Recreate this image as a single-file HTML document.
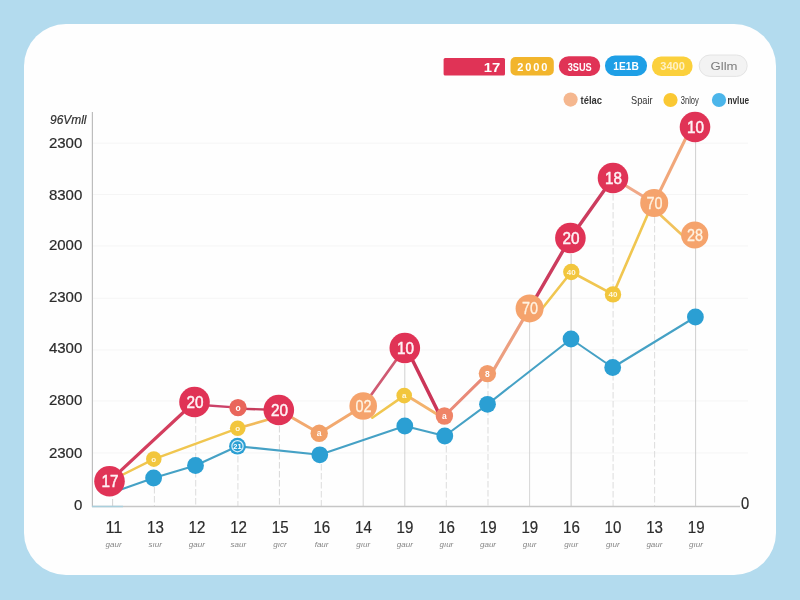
<!DOCTYPE html>
<html lang="en">
<head>
<meta charset="utf-8">
<title>Line chart</title>
<style>
html,body{margin:0;padding:0;}
body{width:800px;height:600px;overflow:hidden;background:#b3dbee;font-family:"Liberation Sans",sans-serif;}
.card{position:absolute;left:24px;top:24px;width:752px;height:551px;background:#fefefe;border-radius:42px;}
svg{position:absolute;left:0;top:0;width:800px;height:600px;font-family:"Liberation Sans",sans-serif;}
</style>
</head>
<body>
<div class="card"></div>
<svg width="800" height="600" viewBox="0 0 800 600">
<g stroke="#f5f5f5" stroke-width="1">
<line x1="93" y1="143.2" x2="748" y2="143.2"/>
<line x1="93" y1="194.5" x2="748" y2="194.5"/>
<line x1="93" y1="246" x2="748" y2="246"/>
<line x1="93" y1="298.3" x2="748" y2="298.3"/>
<line x1="93" y1="350" x2="748" y2="350"/>
<line x1="93" y1="401" x2="748" y2="401"/>
<line x1="93" y1="453" x2="748" y2="453"/>
</g>
<line x1="112.6" y1="499" x2="112.6" y2="506" stroke="#c9c9c9" stroke-width="0.85" />
<line x1="154.4" y1="487" x2="154.4" y2="506" stroke="#d6d6d6" stroke-width="0.85" stroke-dasharray="6.5 2.5"/>
<line x1="195.7" y1="417" x2="195.7" y2="506" stroke="#d6d6d6" stroke-width="0.85" stroke-dasharray="6.5 2.5"/>
<line x1="237.9" y1="456" x2="237.9" y2="506" stroke="#d6d6d6" stroke-width="0.85" stroke-dasharray="6.5 2.5"/>
<line x1="279.4" y1="426" x2="279.4" y2="506" stroke="#d0d0d0" stroke-width="0.85" stroke-dasharray="6.5 2.5"/>
<line x1="321.3" y1="464" x2="321.3" y2="506" stroke="#d6d6d6" stroke-width="0.85" stroke-dasharray="6.5 2.5"/>
<line x1="363.2" y1="420" x2="363.2" y2="506" stroke="#cfcfcf" stroke-width="0.85" />
<line x1="404.8" y1="364" x2="404.8" y2="506" stroke="#c6c6c6" stroke-width="0.85" />
<line x1="446.3" y1="446" x2="446.3" y2="506" stroke="#d6d6d6" stroke-width="0.85" stroke-dasharray="6.5 2.5"/>
<line x1="488.0" y1="382" x2="488.0" y2="506" stroke="#d6d6d6" stroke-width="0.85" stroke-dasharray="6.5 2.5"/>
<line x1="529.6" y1="322" x2="529.6" y2="506" stroke="#cfcfcf" stroke-width="0.85" />
<line x1="571.1" y1="254" x2="571.1" y2="506" stroke="#bdbdbd" stroke-width="0.85" />
<line x1="613.1" y1="194" x2="613.1" y2="506" stroke="#d6d6d6" stroke-width="0.85" stroke-dasharray="6.5 2.5"/>
<line x1="654.6" y1="217" x2="654.6" y2="506" stroke="#d6d6d6" stroke-width="0.85" stroke-dasharray="6.5 2.5"/>
<line x1="695.6" y1="142" x2="695.6" y2="506" stroke="#c6c6c6" stroke-width="0.85" />
<line x1="92.4" y1="112" x2="92.4" y2="507" stroke="#bdbdbd" stroke-width="1.2"/>
<line x1="92" y1="506.5" x2="740" y2="506.5" stroke="#c6c6c6" stroke-width="1.3"/>
<line x1="92" y1="506.5" x2="123" y2="506.5" stroke="#a9cfdc" stroke-width="1.5"/>
<text x="50.0" y="123.6" font-size="13.5" fill="#2f2f2f" text-anchor="start" font-style="italic" stroke="#2f2f2f" stroke-width="0.2" textLength="36.5" lengthAdjust="spacingAndGlyphs">96Vmll</text>
<text x="82.3" y="148.4" font-size="15" fill="#2b2b2b" text-anchor="end" stroke="#2b2b2b" stroke-width="0.2">2300</text>
<text x="82.3" y="199.9" font-size="15" fill="#2b2b2b" text-anchor="end" stroke="#2b2b2b" stroke-width="0.2">8300</text>
<text x="82.3" y="250.4" font-size="15" fill="#2b2b2b" text-anchor="end" stroke="#2b2b2b" stroke-width="0.2">2000</text>
<text x="82.3" y="302.4" font-size="15" fill="#2b2b2b" text-anchor="end" stroke="#2b2b2b" stroke-width="0.2">2300</text>
<text x="82.3" y="353.4" font-size="15" fill="#2b2b2b" text-anchor="end" stroke="#2b2b2b" stroke-width="0.2">4300</text>
<text x="82.3" y="405.4" font-size="15" fill="#2b2b2b" text-anchor="end" stroke="#2b2b2b" stroke-width="0.2">2800</text>
<text x="82.3" y="458.4" font-size="15" fill="#2b2b2b" text-anchor="end" stroke="#2b2b2b" stroke-width="0.2">2300</text>
<text x="82.3" y="509.9" font-size="15" fill="#2b2b2b" text-anchor="end" stroke="#2b2b2b" stroke-width="0.2">0</text>
<text x="745.0" y="508.6" font-size="16" fill="#2b2b2b" text-anchor="middle" stroke="#2b2b2b" stroke-width="0.2" textLength="8.2" lengthAdjust="spacingAndGlyphs">0</text>
<text x="113.8" y="532.6" font-size="16.5" fill="#2b2b2b" text-anchor="middle" stroke="#2b2b2b" stroke-width="0.2" textLength="16.8" lengthAdjust="spacingAndGlyphs">11</text>
<text x="113.6" y="547.4" font-size="8" fill="#858585" text-anchor="middle" font-style="italic">gaur</text>
<text x="155.4" y="532.6" font-size="16.5" fill="#2b2b2b" text-anchor="middle" stroke="#2b2b2b" stroke-width="0.2" textLength="16.8" lengthAdjust="spacingAndGlyphs">13</text>
<text x="155.2" y="547.4" font-size="8" fill="#858585" text-anchor="middle" font-style="italic">sıur</text>
<text x="197.0" y="532.6" font-size="16.5" fill="#2b2b2b" text-anchor="middle" stroke="#2b2b2b" stroke-width="0.2" textLength="16.8" lengthAdjust="spacingAndGlyphs">12</text>
<text x="196.8" y="547.4" font-size="8" fill="#858585" text-anchor="middle" font-style="italic">gaur</text>
<text x="238.6" y="532.6" font-size="16.5" fill="#2b2b2b" text-anchor="middle" stroke="#2b2b2b" stroke-width="0.2" textLength="16.8" lengthAdjust="spacingAndGlyphs">12</text>
<text x="238.4" y="547.4" font-size="8" fill="#858585" text-anchor="middle" font-style="italic">saur</text>
<text x="280.2" y="532.6" font-size="16.5" fill="#2b2b2b" text-anchor="middle" stroke="#2b2b2b" stroke-width="0.2" textLength="16.8" lengthAdjust="spacingAndGlyphs">15</text>
<text x="280.0" y="547.4" font-size="8" fill="#858585" text-anchor="middle" font-style="italic">gıcr</text>
<text x="321.8" y="532.6" font-size="16.5" fill="#2b2b2b" text-anchor="middle" stroke="#2b2b2b" stroke-width="0.2" textLength="16.8" lengthAdjust="spacingAndGlyphs">16</text>
<text x="321.6" y="547.4" font-size="8" fill="#858585" text-anchor="middle" font-style="italic">faur</text>
<text x="363.4" y="532.6" font-size="16.5" fill="#2b2b2b" text-anchor="middle" stroke="#2b2b2b" stroke-width="0.2" textLength="16.8" lengthAdjust="spacingAndGlyphs">14</text>
<text x="363.2" y="547.4" font-size="8" fill="#858585" text-anchor="middle" font-style="italic">gıur</text>
<text x="405.0" y="532.6" font-size="16.5" fill="#2b2b2b" text-anchor="middle" stroke="#2b2b2b" stroke-width="0.2" textLength="16.8" lengthAdjust="spacingAndGlyphs">19</text>
<text x="404.8" y="547.4" font-size="8" fill="#858585" text-anchor="middle" font-style="italic">gaur</text>
<text x="446.6" y="532.6" font-size="16.5" fill="#2b2b2b" text-anchor="middle" stroke="#2b2b2b" stroke-width="0.2" textLength="16.8" lengthAdjust="spacingAndGlyphs">16</text>
<text x="446.4" y="547.4" font-size="8" fill="#858585" text-anchor="middle" font-style="italic">gıur</text>
<text x="488.2" y="532.6" font-size="16.5" fill="#2b2b2b" text-anchor="middle" stroke="#2b2b2b" stroke-width="0.2" textLength="16.8" lengthAdjust="spacingAndGlyphs">19</text>
<text x="488.0" y="547.4" font-size="8" fill="#858585" text-anchor="middle" font-style="italic">gaur</text>
<text x="529.8" y="532.6" font-size="16.5" fill="#2b2b2b" text-anchor="middle" stroke="#2b2b2b" stroke-width="0.2" textLength="16.8" lengthAdjust="spacingAndGlyphs">19</text>
<text x="529.6" y="547.4" font-size="8" fill="#858585" text-anchor="middle" font-style="italic">gıur</text>
<text x="571.4" y="532.6" font-size="16.5" fill="#2b2b2b" text-anchor="middle" stroke="#2b2b2b" stroke-width="0.2" textLength="16.8" lengthAdjust="spacingAndGlyphs">16</text>
<text x="571.2" y="547.4" font-size="8" fill="#858585" text-anchor="middle" font-style="italic">gıur</text>
<text x="613.0" y="532.6" font-size="16.5" fill="#2b2b2b" text-anchor="middle" stroke="#2b2b2b" stroke-width="0.2" textLength="16.8" lengthAdjust="spacingAndGlyphs">10</text>
<text x="612.8" y="547.4" font-size="8" fill="#858585" text-anchor="middle" font-style="italic">gıur</text>
<text x="654.6" y="532.6" font-size="16.5" fill="#2b2b2b" text-anchor="middle" stroke="#2b2b2b" stroke-width="0.2" textLength="16.8" lengthAdjust="spacingAndGlyphs">13</text>
<text x="654.4" y="547.4" font-size="8" fill="#858585" text-anchor="middle" font-style="italic">gaur</text>
<text x="696.2" y="532.6" font-size="16.5" fill="#2b2b2b" text-anchor="middle" stroke="#2b2b2b" stroke-width="0.2" textLength="16.8" lengthAdjust="spacingAndGlyphs">19</text>
<text x="696.0" y="547.4" font-size="8" fill="#858585" text-anchor="middle" font-style="italic">gıur</text>
<line x1="121.0" y1="489.5" x2="153.6" y2="478.0" stroke="#45a1c5" stroke-width="2.1" stroke-linecap="round" />
<line x1="153.6" y1="478.0" x2="195.5" y2="465.5" stroke="#45a1c5" stroke-width="2.1" stroke-linecap="round" />
<line x1="195.5" y1="465.5" x2="237.5" y2="446.2" stroke="#45a1c5" stroke-width="2.1" stroke-linecap="round" />
<line x1="237.5" y1="446.2" x2="319.8" y2="454.8" stroke="#45a1c5" stroke-width="2.1" stroke-linecap="round" />
<line x1="319.8" y1="454.8" x2="404.8" y2="426.0" stroke="#45a1c5" stroke-width="2.1" stroke-linecap="round" />
<line x1="404.8" y1="426.0" x2="444.8" y2="436.0" stroke="#45a1c5" stroke-width="2.1" stroke-linecap="round" />
<line x1="444.8" y1="436.0" x2="487.5" y2="404.3" stroke="#45a1c5" stroke-width="2.1" stroke-linecap="round" />
<line x1="487.5" y1="404.3" x2="571.0" y2="339.0" stroke="#45a1c5" stroke-width="2.1" stroke-linecap="round" />
<line x1="571.0" y1="339.0" x2="612.7" y2="367.5" stroke="#45a1c5" stroke-width="2.1" stroke-linecap="round" />
<line x1="612.7" y1="367.5" x2="695.4" y2="317.0" stroke="#45a1c5" stroke-width="2.1" stroke-linecap="round" />
<line x1="109.5" y1="481.2" x2="153.8" y2="459.1" stroke="#f0c650" stroke-width="2.4" stroke-linecap="round" />
<line x1="153.8" y1="459.1" x2="237.7" y2="428.3" stroke="#f0c650" stroke-width="2.4" stroke-linecap="round" />
<line x1="237.7" y1="428.3" x2="278.8" y2="416.5" stroke="#f1ba5c" stroke-width="2.6" stroke-linecap="round" />
<line x1="372.3" y1="417.7" x2="404.2" y2="395.6" stroke="#f0c650" stroke-width="2.5" stroke-linecap="round" stroke-linecap="butt"/>
<line x1="404.2" y1="394.0" x2="444.0" y2="418.5" stroke="#f3b26c" stroke-width="2.8" stroke-linecap="round" />
<line x1="541.0" y1="310.0" x2="571.3" y2="272.0" stroke="#f0c650" stroke-width="2.6" stroke-linecap="round" />
<line x1="571.3" y1="272.0" x2="613.0" y2="294.4" stroke="#f0c650" stroke-width="2.6" stroke-linecap="round" />
<line x1="613.0" y1="294.4" x2="654.2" y2="199.5" stroke="#f0c650" stroke-width="2.6" stroke-linecap="round" />
<line x1="655.0" y1="210.0" x2="688.0" y2="240.5" stroke="#f1c25c" stroke-width="2.6" stroke-linecap="round" />
<line x1="278.8" y1="410.0" x2="319.2" y2="433.3" stroke="#f2a96f" stroke-width="3" stroke-linecap="round" />
<line x1="319.2" y1="433.3" x2="363.2" y2="406.0" stroke="#f2a96f" stroke-width="3" stroke-linecap="round" />
<line x1="444.4" y1="416.0" x2="487.4" y2="373.6" stroke="#e98a78" stroke-width="3" stroke-linecap="round" />
<line x1="491.5" y1="373.6" x2="529.6" y2="308.4" stroke="#ec9f80" stroke-width="3.1" stroke-linecap="round" />
<line x1="613.0" y1="178.0" x2="654.2" y2="203.0" stroke="#f0a888" stroke-width="3" stroke-linecap="round" />
<line x1="654.2" y1="203.0" x2="691.2" y2="127.0" stroke="#f1a77a" stroke-width="3" stroke-linecap="round" />
<line x1="109.5" y1="481.2" x2="194.5" y2="402.0" stroke="#d33e5e" stroke-width="3.2" stroke-linecap="round" />
<line x1="194.5" y1="404.5" x2="238.0" y2="407.6" stroke="#cb4168" stroke-width="2.4" stroke-linecap="round" />
<line x1="238.0" y1="408.6" x2="278.8" y2="410.0" stroke="#c63c5c" stroke-width="2.4" stroke-linecap="round" />
<line x1="363.2" y1="406.0" x2="404.8" y2="348.0" stroke="#cf5a72" stroke-width="2.7" stroke-linecap="round" />
<line x1="406.5" y1="348.0" x2="440.2" y2="416.0" stroke="#cb3558" stroke-width="3.5" stroke-linecap="round" />
<line x1="529.6" y1="308.4" x2="570.4" y2="238.0" stroke="#cc3c5e" stroke-width="3.4" stroke-linecap="round" />
<line x1="570.4" y1="238.0" x2="613.0" y2="178.0" stroke="#cc3c5e" stroke-width="3.4" stroke-linecap="round" />
<circle cx="153.6" cy="478.0" r="8.4" fill="#2b9fd3" />
<circle cx="195.5" cy="465.5" r="8.4" fill="#2b9fd3" />
<circle cx="237.5" cy="446.2" r="8.4" fill="#2b9fd3" />
<circle cx="319.8" cy="454.8" r="8.4" fill="#2b9fd3" />
<circle cx="404.8" cy="426.0" r="8.4" fill="#2b9fd3" />
<circle cx="444.8" cy="436.0" r="8.4" fill="#2b9fd3" />
<circle cx="487.5" cy="404.3" r="8.4" fill="#2b9fd3" />
<circle cx="571.0" cy="339.0" r="8.4" fill="#2b9fd3" />
<circle cx="612.7" cy="367.5" r="8.4" fill="#2b9fd3" />
<circle cx="695.4" cy="317.0" r="8.4" fill="#2b9fd3" />
<circle cx="237.5" cy="446.2" r="5.6" fill="none" stroke="#d9f0fa" stroke-width="1.2"/>
<text x="237.5" y="449.0" font-size="7.5" fill="#fff" text-anchor="middle" font-weight="bold">21</text>
<circle cx="153.8" cy="459.1" r="7.8" fill="#f2c63d" />
<text x="153.8" y="461.9" font-size="8" fill="#fff8e0" text-anchor="middle" font-weight="bold">o</text>
<circle cx="237.7" cy="428.3" r="7.8" fill="#f2c63d" />
<text x="237.7" y="431.1" font-size="8" fill="#fff8e0" text-anchor="middle" font-weight="bold">o</text>
<circle cx="404.2" cy="395.6" r="7.8" fill="#f2c63d" />
<text x="404.2" y="398.4" font-size="8" fill="#fff8e0" text-anchor="middle" font-weight="bold">a</text>
<circle cx="571.3" cy="272.0" r="8.2" fill="#f2c63d" />
<text x="571.3" y="274.8" font-size="8" fill="#fff8e0" text-anchor="middle" font-weight="bold">40</text>
<circle cx="613.0" cy="294.4" r="8.2" fill="#f2c63d" />
<text x="613.0" y="297.2" font-size="8" fill="#fff8e0" text-anchor="middle" font-weight="bold">40</text>
<circle cx="238.0" cy="407.6" r="8.7" fill="#e9665b" />
<text x="238.0" y="410.6" font-size="8.5" fill="#fff" text-anchor="middle" font-weight="bold">o</text>
<circle cx="319.2" cy="433.3" r="8.7" fill="#f2a068" />
<text x="319.2" y="436.3" font-size="8.5" fill="#fff" text-anchor="middle" font-weight="bold">a</text>
<circle cx="444.4" cy="416.0" r="8.7" fill="#ef8467" />
<text x="444.4" y="419.0" font-size="8.5" fill="#fff" text-anchor="middle" font-weight="bold">a</text>
<circle cx="487.4" cy="373.6" r="8.7" fill="#f29c6c" />
<text x="487.4" y="376.6" font-size="8.5" fill="#fff" text-anchor="middle" font-weight="bold">8</text>
<circle cx="363.2" cy="406.0" r="13.8" fill="#f5a36c" />
<text x="363.5" y="411.6" font-size="16" fill="#fff3e2" text-anchor="middle" stroke="#fff3e2" stroke-width="0.3" textLength="16" lengthAdjust="spacingAndGlyphs">02</text>
<circle cx="529.6" cy="308.4" r="14" fill="#f5a36c" />
<text x="529.9" y="314.0" font-size="16" fill="#fff3e2" text-anchor="middle" stroke="#fff3e2" stroke-width="0.3" textLength="16" lengthAdjust="spacingAndGlyphs">70</text>
<circle cx="654.2" cy="203.0" r="14" fill="#f5a36c" />
<text x="654.5" y="208.6" font-size="16" fill="#fff3e2" text-anchor="middle" stroke="#fff3e2" stroke-width="0.3" textLength="16" lengthAdjust="spacingAndGlyphs">70</text>
<circle cx="694.7" cy="235.0" r="13.6" fill="#f5a36c" />
<text x="695.0" y="240.6" font-size="16" fill="#fff3e2" text-anchor="middle" stroke="#fff3e2" stroke-width="0.3" textLength="16" lengthAdjust="spacingAndGlyphs">28</text>
<circle cx="109.5" cy="481.2" r="15.3" fill="#e03356" />
<text x="110.1" y="486.9" font-size="16.5" fill="#fff2f5" text-anchor="middle" stroke="#fff2f5" stroke-width="0.5" textLength="17" lengthAdjust="spacingAndGlyphs">17</text>
<circle cx="194.5" cy="402.0" r="15.3" fill="#e03356" />
<text x="195.1" y="407.7" font-size="16.5" fill="#fff2f5" text-anchor="middle" stroke="#fff2f5" stroke-width="0.5" textLength="17" lengthAdjust="spacingAndGlyphs">20</text>
<circle cx="278.8" cy="410.0" r="15.3" fill="#e03356" />
<text x="279.4" y="415.7" font-size="16.5" fill="#fff2f5" text-anchor="middle" stroke="#fff2f5" stroke-width="0.5" textLength="17" lengthAdjust="spacingAndGlyphs">20</text>
<circle cx="404.8" cy="348.0" r="15.3" fill="#e03356" />
<text x="405.4" y="353.7" font-size="16.5" fill="#fff2f5" text-anchor="middle" stroke="#fff2f5" stroke-width="0.5" textLength="17" lengthAdjust="spacingAndGlyphs">10</text>
<circle cx="570.4" cy="238.0" r="15.3" fill="#e03356" />
<text x="571.0" y="243.7" font-size="16.5" fill="#fff2f5" text-anchor="middle" stroke="#fff2f5" stroke-width="0.5" textLength="17" lengthAdjust="spacingAndGlyphs">20</text>
<circle cx="613.0" cy="178.0" r="15.3" fill="#e03356" />
<text x="613.6" y="183.7" font-size="16.5" fill="#fff2f5" text-anchor="middle" stroke="#fff2f5" stroke-width="0.5" textLength="17" lengthAdjust="spacingAndGlyphs">18</text>
<circle cx="695.0" cy="127.0" r="15.3" fill="#e03356" />
<text x="695.6" y="132.7" font-size="16.5" fill="#fff2f5" text-anchor="middle" stroke="#fff2f5" stroke-width="0.5" textLength="17" lengthAdjust="spacingAndGlyphs">10</text>
<rect x="443.6" y="58" width="61.4" height="17.6" rx="1.5" fill="#e03356"/>
<text x="492.0" y="72.0" font-size="12.5" fill="#fff" text-anchor="middle" font-weight="bold" textLength="16.5" lengthAdjust="spacingAndGlyphs">17</text>
<rect x="510.5" y="57" width="43.3" height="18.5" rx="5" fill="#f2b52c"/>
<text x="532.3" y="70.6" font-size="11" fill="#fff" text-anchor="middle" font-weight="bold" textLength="30" lengthAdjust="spacing">2000</text>
<rect x="558.8" y="56.2" width="41.4" height="19.8" rx="9.9" fill="#e03356"/>
<text x="579.7" y="70.7" font-size="11.5" fill="#fff" text-anchor="middle" font-weight="bold" textLength="24" lengthAdjust="spacingAndGlyphs">3SUS</text>
<rect x="605" y="55.5" width="42" height="20.5" rx="10" fill="#1e9fe6"/>
<text x="626.0" y="70.4" font-size="11.5" fill="#fff" text-anchor="middle" font-weight="bold" textLength="25.5" lengthAdjust="spacingAndGlyphs">1E1B</text>
<rect x="652" y="56.5" width="40.5" height="19.5" rx="9" fill="#fbd03c"/>
<text x="672.6" y="70.4" font-size="11" fill="#fff1c4" text-anchor="middle" font-weight="bold" textLength="24.5" lengthAdjust="spacingAndGlyphs">3400</text>
<rect x="699.2" y="55" width="48" height="21.4" rx="10.7" fill="#f3f3f3" stroke="#e4e4e4" stroke-width="1"/>
<text x="724.0" y="69.6" font-size="11" fill="#7d7d7d" text-anchor="middle" textLength="27" lengthAdjust="spacingAndGlyphs">Gllm</text>
<circle cx="570.6" cy="99.6" r="7.1" fill="#f5b78f" />
<text x="580.6" y="104.2" font-size="11" fill="#333" text-anchor="start" font-weight="bold" textLength="21.5" lengthAdjust="spacingAndGlyphs">télac</text>
<text x="631.0" y="104.2" font-size="11" fill="#333" text-anchor="start" textLength="21.5" lengthAdjust="spacingAndGlyphs">Spair</text>
<circle cx="670.5" cy="100.0" r="7.1" fill="#fac833" />
<text x="680.8" y="104.2" font-size="11" fill="#333" text-anchor="start" textLength="18" lengthAdjust="spacingAndGlyphs">3nloy</text>
<circle cx="719.0" cy="100.0" r="7.1" fill="#4bb5ea" />
<text x="727.5" y="104.2" font-size="11" fill="#333" text-anchor="start" font-weight="bold" textLength="21.5" lengthAdjust="spacingAndGlyphs">nvlue</text>
</svg>
</body>
</html>
